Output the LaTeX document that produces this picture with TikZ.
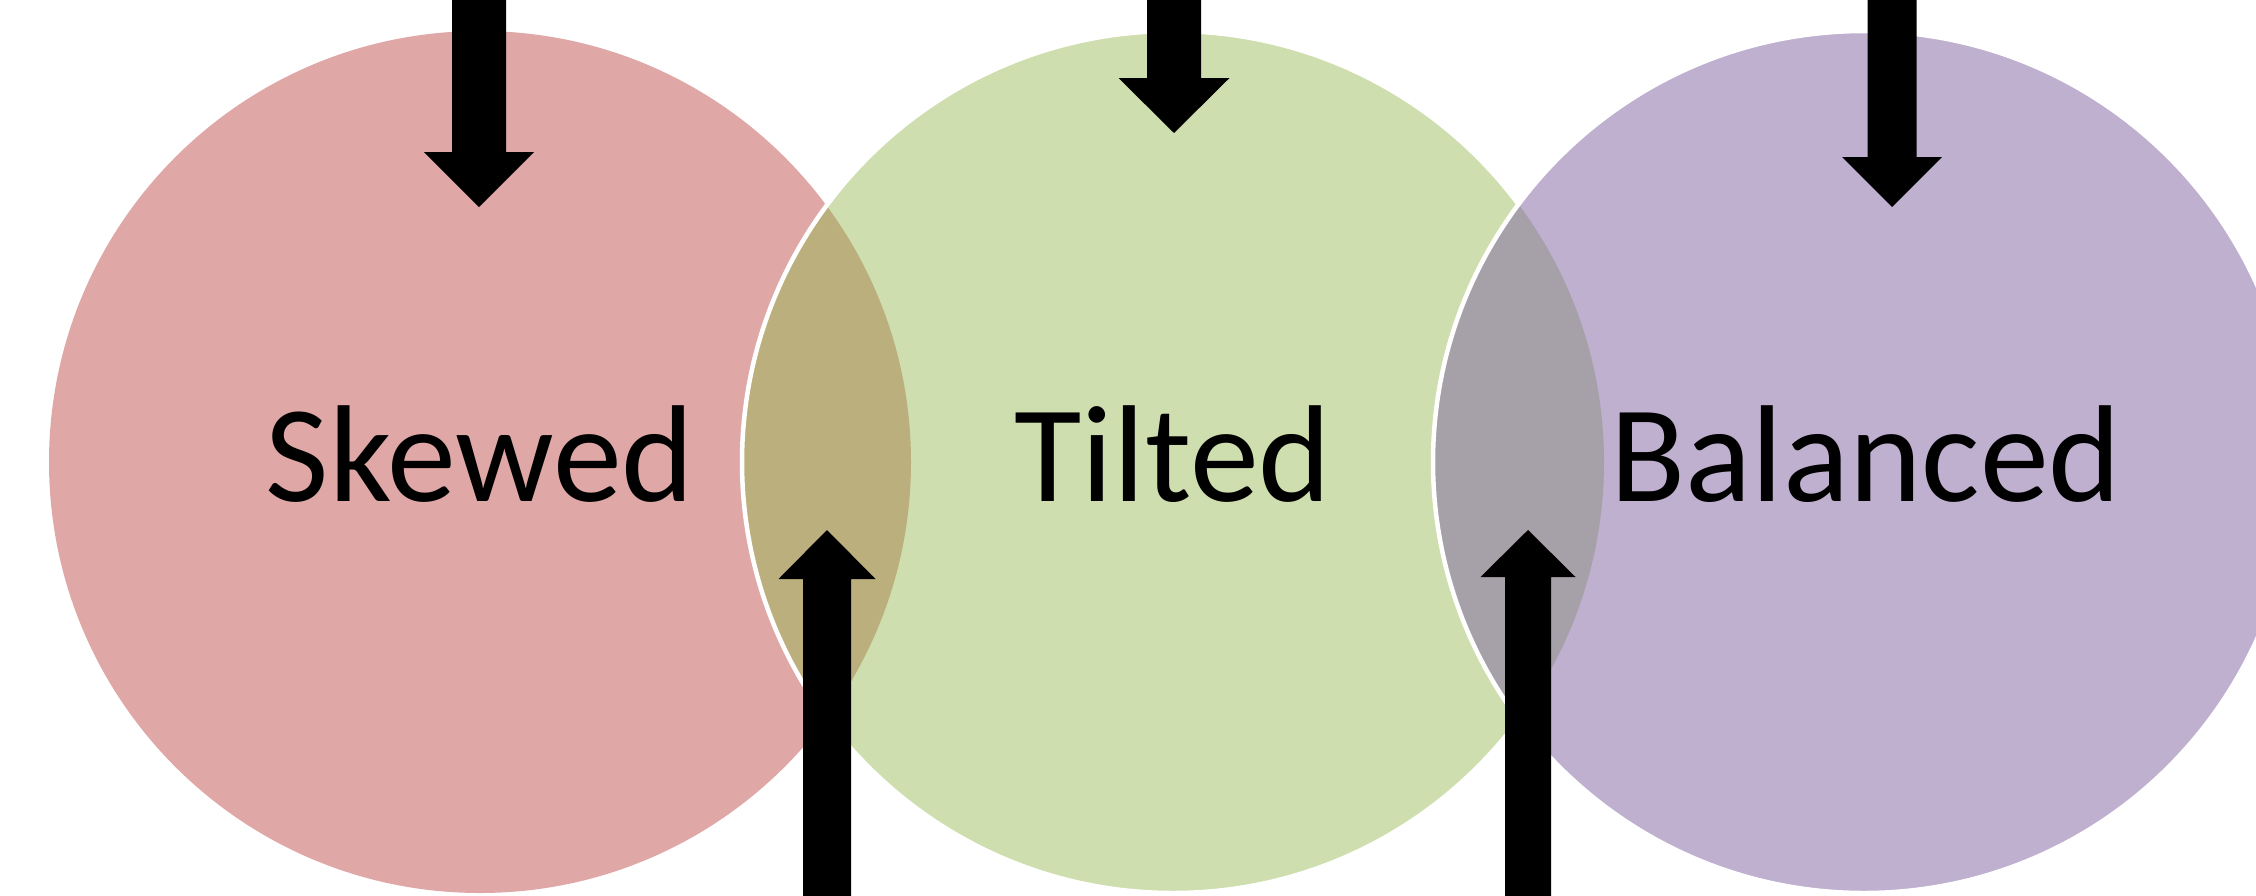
\documentclass[tikz,border=0pt]{standalone}
\usepackage{fontspec}
\setmainfont{Carlito}

\definecolor{skewfill}{RGB}{224,167,167}
\definecolor{tiltfill}{RGB}{207,222,174}
\definecolor{balfill}{RGB}{191,176,208}
\definecolor{skewtilt}{RGB}{188,175,126}
\definecolor{tiltbal}{RGB}{166,161,168}

\tikzset{
  blob/.style={fill=#1},
  rim/.style={draw=white, line width=4.5pt},
  caption/.style={inner sep=0pt, anchor=base, text=black,
                  font=\fontsize{138}{160}\selectfont},
  arrowfill/.style={fill=black},
}

% block arrow: #1 centre x, #2 tail y, #3 head base y, #4 tip y,
% #5 half shaft width, #6 half head width
\newcommand\blockarrow[6]{%
  \fill[arrowfill] ({#1-#5},#2) -- ({#1+#5},#2) -- ({#1+#5},#3) -- ({#1+#6},#3)
    -- (#1,#4) -- ({#1-#6},#3) -- ({#1-#5},#3) -- cycle;}

\begin{document}
\begin{tikzpicture}[x=1pt,y=-1pt]
  \useasboundingbox (0,0) rectangle (2256,895);
  \clip (0,0) rectangle (2256,895);

  \coordinate (cL) at (480,462);
  \coordinate (cM) at (1173,462);
  \coordinate (cR) at (1864,462);
  \def\rad{431}

  % circles and their overlaps
  \fill[blob=skewfill] (cL) circle[radius=\rad];
  \fill[blob=tiltfill] (cM) circle[radius=\rad];
  \begin{scope}
    \clip (cL) circle[radius=\rad];
    \fill[blob=skewtilt] (cM) circle[radius=\rad];
  \end{scope}
  \draw[rim] (cM) circle[radius=\rad];

  \fill[blob=balfill] (cR) circle[radius=\rad];
  \begin{scope}
    \clip (cM) circle[radius=\rad];
    \fill[blob=tiltbal] (cR) circle[radius=\rad];
  \end{scope}
  \draw[rim] (cR) circle[radius=\rad];

  % labels
  \node[caption] (skewed)   at (480,501)  {Skewed};
  \node[caption] (tilted)   at (1173,501) {Tilted};
  \node[caption] (balanced) at (1866,501) {Balanced};

  % arrows from above
  \blockarrow{479}{-2}{152}{207}{27}{55}
  \blockarrow{1174}{-2}{78}{133}{27}{55.5}
  \blockarrow{1892}{-2}{157}{207}{24.5}{50}

  % arrows from below
  \blockarrow{827}{897}{579}{530}{24}{48.5}
  \blockarrow{1528}{897}{577}{530}{23}{47.5}
\end{tikzpicture}
\end{document}
